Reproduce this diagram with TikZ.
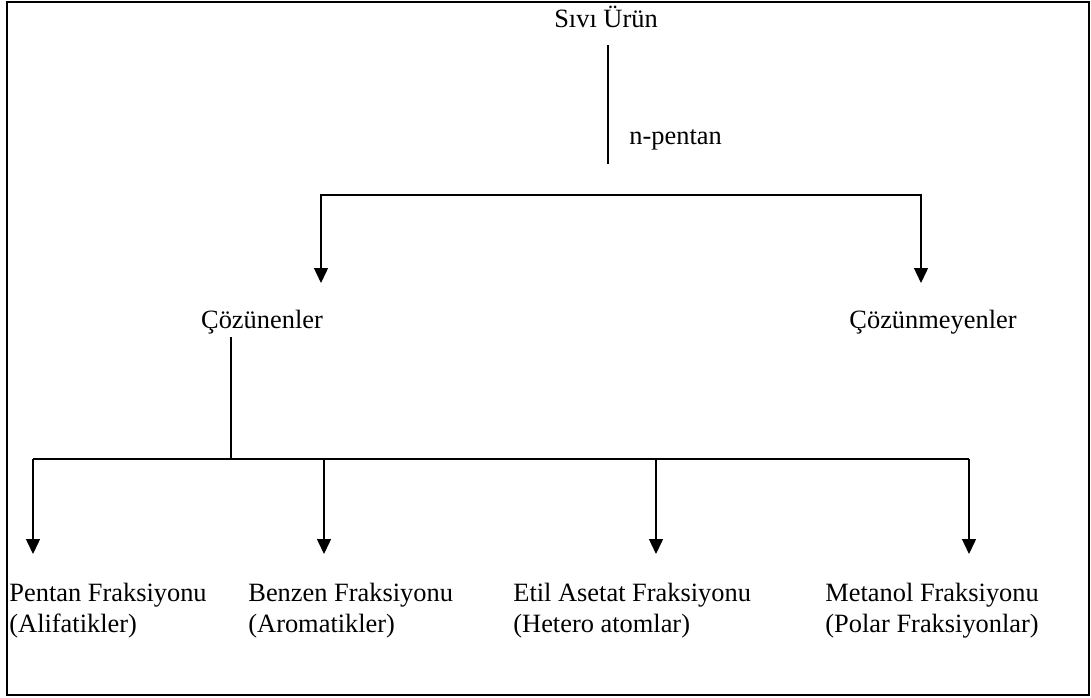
\documentclass[tikz,border=0pt]{standalone}
\usepackage{fontspec}
\setmainfont{Liberation Serif}
\usepackage{tikz}
\usetikzlibrary{arrows.meta}

\begin{document}
\begin{tikzpicture}[x=0.5pt, y=-0.5pt,
    every node/.style={inner sep=0pt, font=\fontsize{13.2}{15.5}\selectfont},
    link/.style={line width=0.7pt},
    arr/.style={link, -{Triangle[length=7.5pt, width=7pt]}}]
    \useasboundingbox (0,0) rectangle (1091,697);

    % Outer frame
    \draw[line width=1pt] (6.5,1.5) rectangle (1089,694.5);

    % Liquid product and n-pentan split
    \node[anchor=base] (urun) at (606,27) {Sıvı Ürün};
    \coordinate (urunTop) at (608,45);
    \coordinate (urunBot) at (608,164);
    \draw[link] (urunTop) -- (urunBot);
    \node[anchor=base west] (npentan) at (629,144) {n-pentan};

    % Soluble / insoluble
    \node[anchor=base] (cozunen) at (262,328) {Çözünenler};
    \node[anchor=base] (cozunmeyen) at (933,328) {Çözünmeyenler};
    \coordinate (tipA) at (321,283);
    \coordinate (tipB) at (921,283);
    \coordinate (split) at (608,195);
    \draw[link, {Triangle[length=7.5pt, width=7pt]}-{Triangle[length=7.5pt, width=7pt]}]
        (tipA) |- (split) -| (tipB);

    % Fractions
    \coordinate (cozTop) at (231,337);
    \coordinate (cozBot) at (231,459);
    \draw[link] (cozTop) -- (cozBot);
    \coordinate (busL) at (33,459);
    \coordinate (busR) at (969,459);
    \draw[link] (busL) -- (busR);
    \foreach \xx/\nm in {33/f1, 324/f2, 656/f3, 969/f4}{
        \coordinate (\nm top) at (\xx,459);
        \coordinate (\nm tip) at (\xx,554);
        \draw[arr] (\nm top) -- (\nm tip);
    }
    \node[anchor=west, align=left] (pentan) at (9,611) {Pentan Fraksiyonu\\(Alifatikler)};
    \node[anchor=west, align=left] (benzen) at (248,611) {Benzen Fraksiyonu\\(Aromatikler)};
    \node[anchor=west, align=left] (etil) at (513,611) {Etil Asetat Fraksiyonu\\(Hetero atomlar)};
    \node[anchor=west, align=left] (metanol) at (825,611) {Metanol Fraksiyonu\\(Polar Fraksiyonlar)};

\end{tikzpicture}
\end{document}
